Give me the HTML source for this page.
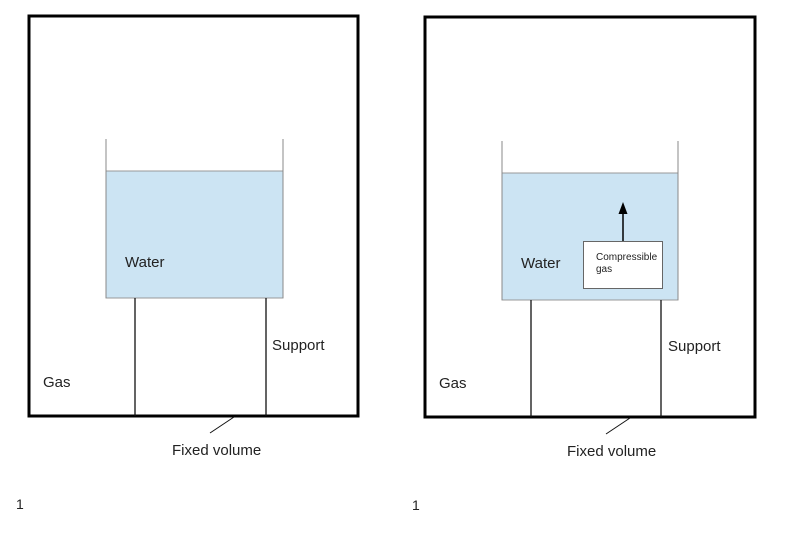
<!DOCTYPE html>
<html><head><style>body{margin:0;background:#fff}</style></head><body>
<svg width="800" height="542" viewBox="0 0 800 542" xmlns="http://www.w3.org/2000/svg" font-family="Liberation Sans, sans-serif" fill="#222">
<g>
<rect x="29" y="16" width="329" height="400" fill="none" stroke="#000" stroke-width="3"/>
<rect x="106" y="171" width="177" height="127" fill="#cce4f3" stroke="#999" stroke-width="1"/>
<line x1="106" y1="139" x2="106" y2="298" stroke="#888"/>
<line x1="283" y1="139" x2="283" y2="298" stroke="#888"/>
<line x1="135" y1="298" x2="135" y2="416" stroke="#111" stroke-width="1.3"/>
<line x1="266" y1="298" x2="266" y2="416" stroke="#111" stroke-width="1.3"/>
<line x1="234" y1="417" x2="210" y2="433" stroke="#111"/>
<text x="125" y="267" font-size="15">Water</text>
<text x="272" y="350" font-size="15">Support</text>
<text x="43" y="387" font-size="15">Gas</text>
<text x="172" y="455" font-size="15">Fixed volume</text>
<text x="16" y="509" font-size="14">1</text>
</g>
<g>
<rect x="425" y="17" width="330" height="400" fill="none" stroke="#000" stroke-width="3"/>
<rect x="502" y="173" width="176" height="127" fill="#cce4f3" stroke="#999" stroke-width="1"/>
<line x1="502" y1="141" x2="502" y2="300" stroke="#888"/>
<line x1="678" y1="141" x2="678" y2="300" stroke="#888"/>
<line x1="531" y1="300" x2="531" y2="417" stroke="#111" stroke-width="1.3"/>
<line x1="661" y1="300" x2="661" y2="417" stroke="#111" stroke-width="1.3"/>
<line x1="630" y1="418" x2="606" y2="434" stroke="#111"/>
<rect x="583.5" y="241.5" width="79" height="47" fill="#fff" stroke="#666"/>
<line x1="623" y1="241" x2="623" y2="212" stroke="#000" stroke-width="1.5"/>
<polygon points="623,202 618.5,214 627.5,214" fill="#000"/>
<text x="596" y="260" font-size="10">Compressible</text>
<text x="596" y="272" font-size="10">gas</text>
<text x="521" y="268" font-size="15">Water</text>
<text x="668" y="351" font-size="15">Support</text>
<text x="439" y="388" font-size="15">Gas</text>
<text x="567" y="456" font-size="15">Fixed volume</text>
<text x="412" y="510" font-size="14">1</text>
</g>
</svg>
</body></html>
